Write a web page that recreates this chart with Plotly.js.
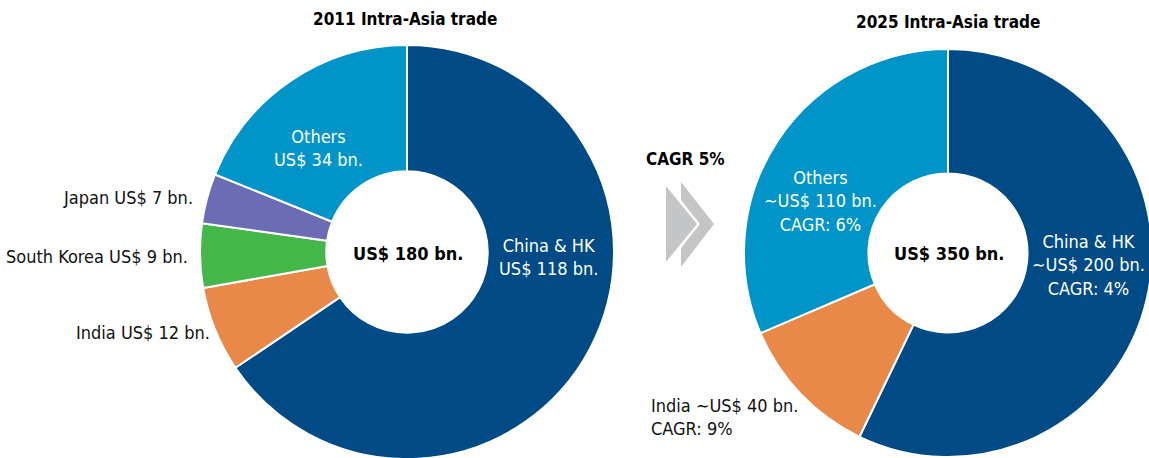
<!DOCTYPE html>
<html>
<head>
<meta charset="utf-8">
<script src="https://cdn.plot.ly/plotly-3.0.1.min.js"></script>
<style>
html,body{margin:0;padding:0;overflow:hidden;background:#fff;width:1149px;height:458px;}
#chart{width:1200px;height:480px;}
</style>
</head>
<body>
<div id="chart"></div>
<script>
// ---- data ----
const cats2011 = ['China & HK', 'India', 'South Korea', 'Japan', 'Others'];
const vals2011 = [118, 12, 9, 7, 34];
const total2011 = 180;
const cats2025 = ['China & HK', 'India', 'Others'];
const vals2025 = [200, 40, 110];
const cagr2025 = [4, 9, 6];
const total2025 = 350;
const cagrTotal = 5;
const colors2011 = ['#004b85', '#e8894a', '#45b74a', '#6b6cb3', '#0094c8'];
const colors2025 = ['#004b85', '#e8894a', '#0094c8'];

// ---- geometry helpers (div is 1200x480, window clips) ----
const W = 1200, H = 480;
const px = x => x / W;
const py = y => 1 - y / H;

const FONT = '"Liberation Sans Narrow", "DejaVu Sans Condensed", "Arial Narrow", sans-serif';

const traces = [
  {
    type: 'pie', values: vals2011, labels: cats2011, sort: false, direction: 'clockwise', rotation: 0,
    hole: 0.39, textinfo: 'none', hoverinfo: 'skip',
    marker: {colors: colors2011, line: {color: '#ffffff', width: 2}},
    domain: {x: [px(407 - 207), px(407 + 207)], y: [py(459), py(45)]},
    showlegend: false
  },
  {
    type: 'pie', values: vals2025, labels: cats2025, sort: false, direction: 'clockwise', rotation: 0,
    hole: 0.39, textinfo: 'none', hoverinfo: 'skip',
    marker: {colors: colors2025, line: {color: '#ffffff', width: 2}},
    domain: {x: [px(948 - 204), px(948 + 204)], y: [py(457), py(49)]},
    showlegend: false
  }
];

function ann(x, y, text, opts) {
  return Object.assign({
    xref: 'paper', yref: 'paper', x: px(x), y: py(y), text: text, showarrow: false,
    xanchor: 'center', yanchor: 'middle', align: 'center',
    font: {family: FONT, size: 18, color: '#111111'}
  }, opts || {});
}
const white = {family: FONT, size: 18, color: '#ffffff'};
const bold = {family: FONT, size: 18, color: '#000000', weight: 'bold'};

const annotations = [
  ann(405, 19, '<b>2011 Intra-Asia trade</b>', {font: {family: FONT, size: 17, color: '#000'}}),
  ann(948, 22, '<b>2025 Intra-Asia trade</b>', {font: {family: FONT, size: 17, color: '#000'}}),
  ann(408, 253, '<b>US$ ' + total2011 + ' bn.</b>', {font: bold}),
  ann(949, 253, '<b>US$ ' + total2025 + ' bn.</b>', {font: bold}),
  ann(548, 257, cats2011[0] + '<br>US$ ' + vals2011[0] + ' bn.', {font: white}),
  ann(318, 148, cats2011[4] + '<br>US$ ' + vals2011[4] + ' bn.', {font: white}),
  ann(195, 197, cats2011[3] + ' US$ ' + vals2011[3] + ' bn.', {xanchor: 'right'}),
  ann(190, 256, cats2011[2] + ' US$ ' + vals2011[2] + ' bn.', {xanchor: 'right'}),
  ann(212, 332, cats2011[1] + ' US$ ' + vals2011[1] + ' bn.', {xanchor: 'right'}),
  ann(1088, 265, cats2025[0] + '<br>\u223CUS$ ' + vals2025[0] + ' bn.<br>CAGR: ' + cagr2025[0] + '%', {font: white}),
  ann(820, 201, cats2025[2] + '<br>\u223CUS$ ' + vals2025[2] + ' bn.<br>CAGR: ' + cagr2025[2] + '%', {font: white}),
  ann(649, 417, cats2025[1] + ' \u223CUS$ ' + vals2025[1] + ' bn.<br>CAGR: ' + cagr2025[1] + '%', {xanchor: 'left', align: 'left'}),
  ann(685, 159, '<b>CAGR ' + cagrTotal + '%</b>', {font: {family: FONT, size: 17, color: '#000'}})
];

function path(pts) {
  return 'M' + pts.map(p => px(p[0]) + ',' + py(p[1])).join(' L') + ' Z';
}
const gray = '#c4c5c7';
const shapes = [
  {type: 'path', xref: 'paper', yref: 'paper', path: path([[666, 186], [697, 224], [666, 262]]),
   fillcolor: gray, line: {width: 0}},
  {type: 'path', xref: 'paper', yref: 'paper',
   path: path([[681, 182], [714, 224], [681, 267], [681, 248], [700, 224], [681, 200]]),
   fillcolor: gray, line: {width: 0}}
];

const layout = {
  width: W, height: H,
  margin: {l: 0, r: 0, t: 0, b: 0},
  paper_bgcolor: '#ffffff', plot_bgcolor: '#ffffff',
  annotations: annotations, shapes: shapes, showlegend: false
};

Plotly.newPlot('chart', traces, layout, {displayModeBar: false, staticPlot: true});
</script>
</body>
</html>
